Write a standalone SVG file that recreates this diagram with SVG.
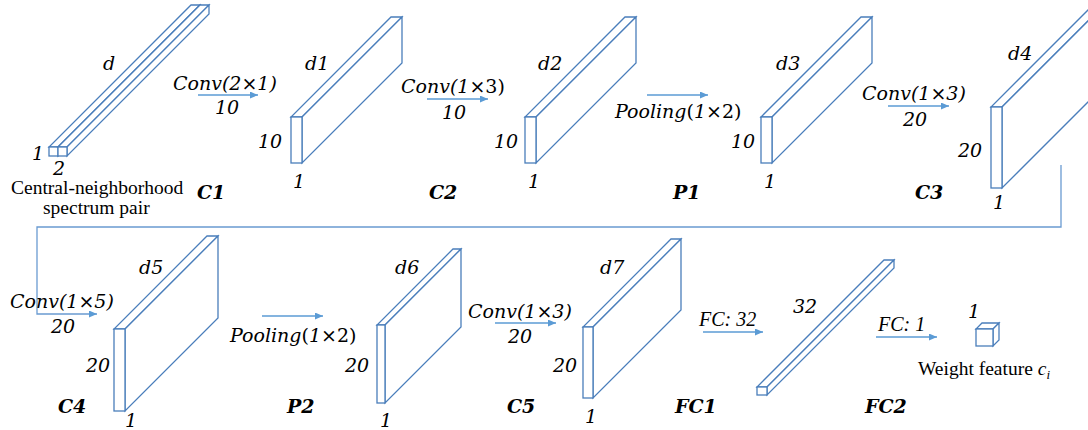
<svg xmlns="http://www.w3.org/2000/svg" width="1088" height="430" viewBox="0 0 1088 430">
  <defs>
    <marker id="head" markerWidth="9" markerHeight="8" refX="8" refY="3.5" orient="auto" markerUnits="userSpaceOnUse">
      <path d="M0,0 L8,3.5 L0,7 z" fill="#5b9bd5"/>
    </marker>
    <style>
      .box { fill: #ffffff; stroke: #4a7ebb; stroke-width: 1.3; stroke-linejoin: miter; }
      .arr { fill: none; stroke: #5b9bd5; stroke-width: 1.5; marker-end: url(#head); }
      .wire { fill: none; stroke: #6a9bd1; stroke-width: 1.3; marker-end: url(#head); }
      .lab { font-family: "DejaVu Serif", "Liberation Serif", serif; font-style: italic; font-size: 19px; fill: #000; }
      .up { font-style: normal; }
      .name { font-family: "DejaVu Serif", "Liberation Serif", serif; font-style: italic; font-weight: bold; font-size: 19px; fill: #000; }
      .fc { font-family: "Liberation Serif", "DejaVu Serif", serif; font-style: italic; font-size: 20px; fill: #000; }
      .cap { font-family: "Liberation Serif", "DejaVu Serif", serif; font-size: 19.5px; fill: #000; }
    </style>
  </defs>
  <rect width="1088" height="430" fill="#ffffff"/>

  <!-- input: two thin prisms, 1 x 2 x d -->
  <g id="input">
    <polygon class="box" points="49,147 58,147 200,5 191,5"/>
    <polygon class="box" points="58,147 200,5 200,14 58,156"/>
    <rect class="box" x="49" y="147" width="9" height="9"/>
    <polygon class="box" points="58,147 67,147 209,5 200,5"/>
    <polygon class="box" points="67,147 209,5 209,14 67,156"/>
    <rect class="box" x="58" y="147" width="9" height="9"/>
    <text class="lab" x="103" y="70">d</text>
    <text class="lab" x="32" y="160">1</text>
    <text class="lab" x="53" y="175">2</text>
    <text class="cap" x="11" y="194">Central-neighborhood</text>
    <text class="cap" x="43" y="214">spectrum pair</text>
  </g>

  <!-- C1 -->
  <g id="c1">
    <polygon class="box" points="291,117 302,117 402,17 391,17"/>
    <polygon class="box" points="302,117 402,17 402,63 302,163"/>
    <rect class="box" x="291" y="117" width="11" height="46"/>
    <text class="lab" x="305" y="70">d1</text>
    <text class="lab" x="258" y="148">10</text>
    <text class="lab" x="293" y="188">1</text>
    <text class="name" x="197" y="199">C1</text>
  </g>

  <!-- C2 -->
  <g id="c2">
    <polygon class="box" points="525,117 536,117 636,17 625,17"/>
    <polygon class="box" points="536,117 636,17 636,63 536,163"/>
    <rect class="box" x="525" y="117" width="11" height="46"/>
    <text class="lab" x="538" y="70">d2</text>
    <text class="lab" x="494" y="148">10</text>
    <text class="lab" x="528" y="188">1</text>
    <text class="name" x="429" y="199">C2</text>
  </g>

  <!-- P1 -->
  <g id="p1">
    <polygon class="box" points="761,117 772,117 872,17 861,17"/>
    <polygon class="box" points="772,117 872,17 872,63 772,163"/>
    <rect class="box" x="761" y="117" width="11" height="46"/>
    <text class="lab" x="776" y="70">d3</text>
    <text class="lab" x="731" y="148">10</text>
    <text class="lab" x="764" y="188">1</text>
    <text class="name" x="673" y="199">P1</text>
  </g>

  <!-- C3 (runs past the right edge) -->
  <g id="c3">
    <polygon class="box" points="991,107 1002,107 1102,7 1091,7"/>
    <polygon class="box" points="1002,107 1102,7 1102,88 1002,188"/>
    <rect class="box" x="991" y="107" width="11" height="81"/>
    <text class="lab" x="1008" y="60">d4</text>
    <text class="lab" x="958" y="157">20</text>
    <text class="lab" x="993" y="209">1</text>
    <text class="name" x="915" y="199">C3</text>
  </g>

  <!-- C4 -->
  <g id="c4">
    <polygon class="box" points="114,329 125,329 218,236 207,236"/>
    <polygon class="box" points="125,329 218,236 218,318 125,411"/>
    <rect class="box" x="114" y="329" width="11" height="82"/>
    <text class="lab" x="139" y="274">d5</text>
    <text class="lab" x="86" y="372">20</text>
    <text class="lab" x="125" y="427">1</text>
    <text class="name" x="58" y="413">C4</text>
  </g>

  <!-- P2 -->
  <g id="p2">
    <polygon class="box" points="377,325 385,325 461,249 453,249"/>
    <polygon class="box" points="385,325 461,249 461,327 385,403"/>
    <rect class="box" x="377" y="325" width="8" height="78"/>
    <text class="lab" x="395" y="274">d6</text>
    <text class="lab" x="345" y="372">20</text>
    <text class="lab" x="380" y="427">1</text>
    <text class="name" x="287" y="413">P2</text>
  </g>

  <!-- C5 -->
  <g id="c5">
    <polygon class="box" points="583,327 593,327 681,239 671,239"/>
    <polygon class="box" points="593,327 681,239 681,310 593,398"/>
    <rect class="box" x="583" y="327" width="10" height="71"/>
    <text class="lab" x="600" y="274">d7</text>
    <text class="lab" x="553" y="372">20</text>
    <text class="lab" x="585" y="423">1</text>
    <text class="name" x="507" y="413">C5</text>
  </g>

  <!-- FC1: 32-unit bar -->
  <g id="fc1">
    <polygon class="box" points="757,387 767,387 894,260 884,260"/>
    <polygon class="box" points="767,387 894,260 894,268 767,395"/>
    <rect class="box" x="757" y="387" width="10" height="8"/>
    <text class="lab" x="793" y="313">32</text>
    <text class="name" x="675" y="413">FC1</text>
  </g>

  <!-- FC2: single unit -->
  <g id="fc2">
    <polygon class="box" points="976,329 993,329 999,323 982,323"/>
    <polygon class="box" points="993,329 999,323 999,340 993,346"/>
    <rect class="box" x="976" y="329" width="17" height="17"/>
    <text class="lab" x="968" y="318">1</text>
    <text class="cap" x="918" y="375">Weight feature <tspan font-style="italic">c</tspan><tspan font-style="italic" font-size="13px" dy="4">i</tspan></text>
    <text class="name" x="865" y="413">FC2</text>
  </g>

  <!-- connectors and operation labels -->
  <g id="connectors">
    <line class="arr" x1="198" y1="95" x2="258" y2="95"/>
    <text class="lab" x="173" y="90">Conv(2×1)</text>
    <text class="lab" x="215" y="114">10</text>

    <line class="arr" x1="427" y1="99" x2="488" y2="99"/>
    <text class="lab" x="401" y="93">Conv(1<tspan class="up">×3)</tspan></text>
    <text class="lab" x="442" y="119">10</text>

    <line class="arr" x1="647" y1="95" x2="708" y2="95"/>
    <text class="lab" x="615" y="118">Pooling<tspan class="up">(</tspan>1<tspan class="up">×2)</tspan></text>

    <line class="arr" x1="888" y1="106" x2="949" y2="106"/>
    <text class="lab" x="862" y="100">Conv(1×3)</text>
    <text class="lab" x="903" y="126">20</text>

    <!-- wrap from the end of the top row back to the start of the bottom row -->
    <polyline class="wire" points="1061,165 1061,227 37,227 37,314 97,314"/>
    <text class="lab" x="10" y="308">Conv(1×5)</text>
    <text class="lab" x="51" y="333">20</text>

    <line class="arr" x1="262" y1="316" x2="323" y2="316"/>
    <text class="lab" x="230" y="342">Pooling<tspan class="up">(</tspan>1<tspan class="up">×2)</tspan></text>

    <line class="arr" x1="495" y1="323" x2="556" y2="323"/>
    <text class="lab" x="468" y="318">Conv(1×3)</text>
    <text class="lab" x="508" y="343">20</text>

    <line class="arr" x1="703" y1="332" x2="763" y2="332"/>
    <text class="fc" x="699" y="326">FC: 32</text>

    <line class="arr" x1="876" y1="337" x2="937" y2="337"/>
    <text class="fc" x="878" y="331">FC: 1</text>
  </g>
</svg>
